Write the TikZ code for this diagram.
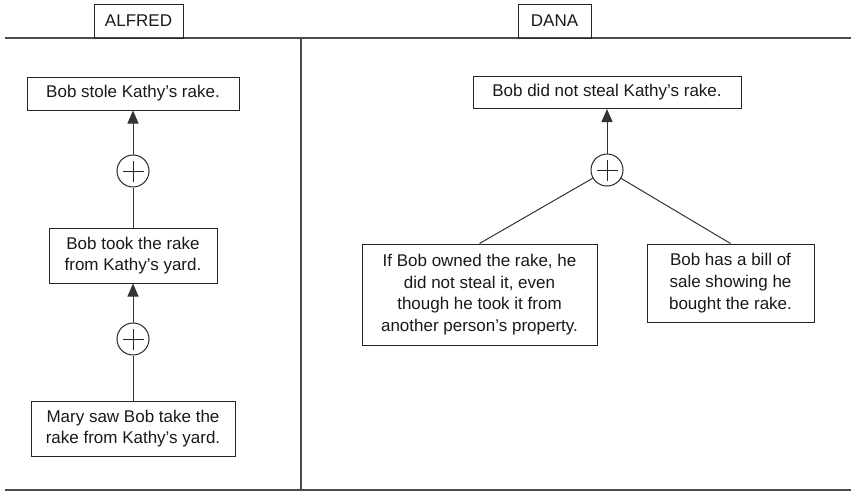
\documentclass[tikz,border=0pt]{standalone}
\usepackage{fontspec}
\setmainfont{Liberation Sans}
\usetikzlibrary{arrows.meta}
\begin{document}
\begin{tikzpicture}[x=1pt,y=-1pt,
  every node/.style={font=\fontsize{17}{21.7}\selectfont, text=black!90},
  claim/.style={draw=black!85, line width=1pt, align=center, inner sep=0pt},
  header/.style={draw=black!85, line width=1pt, inner sep=0pt},
  plusnode/.style={draw=black!85, line width=1pt, circle, minimum size=32pt, inner sep=0pt,
    path picture={\draw[line width=1pt] ([xshift=-10.5pt]path picture bounding box.center) -- ([xshift=10.5pt]path picture bounding box.center)
      ([yshift=-10.5pt]path picture bounding box.center) -- ([yshift=10.5pt]path picture bounding box.center);}},
  link/.style={draw=black!80, line width=1pt},
  support/.style={link, -{Triangle[length=13pt,width=11pt]}},
  rule/.style={draw=black!70, line width=1.5pt}
]
\useasboundingbox (0,0) rectangle (851,491);

% frame rules
\coordinate (tl) at (5,38);
\coordinate (tr) at (851,38);
\coordinate (bl) at (5,490);
\coordinate (br) at (851,490);
\coordinate (vt) at (301,38);
\coordinate (vb) at (301,490);
\draw[rule] (tl) -- (tr);
\draw[rule] (bl) -- (br);
\draw[rule, line width=1.2pt] (vt) -- (vb);

% column headers
\node[header, minimum width=89pt, minimum height=34pt] (alfred) at (138.5,21) {ALFRED};
\node[header, minimum width=73pt, minimum height=34pt] (dana) at (554.5,21) {DANA};

% Alfred's chain
\node[claim, minimum width=212pt, minimum height=33pt] (a1) at (133,93.5) {Bob stole Kathy’s rake.};
\node[plusnode] (ap1) at (133,171) {};
\node[claim, minimum width=168pt, minimum height=55pt] (a2) at (133,255.5) {Bob took the rake\\from Kathy’s yard.};
\node[plusnode] (ap2) at (133,339) {};
\node[claim, minimum width=204pt, minimum height=55pt] (a3) at (133,428.5) {Mary saw Bob take the\\rake from Kathy’s yard.};

\draw[support] (ap1) -- (a1);
\draw[link] (a2) -- (ap1);
\draw[support] (ap2) -- (a2);
\draw[link] (a3) -- (ap2);

% Dana's tree
\node[claim, minimum width=268pt, minimum height=32pt] (d1) at (607,92.5) {Bob did not steal Kathy’s rake.};
\node[plusnode] (dp) at (607,170) {};
\node[claim, minimum width=235pt, minimum height=101pt] (d2) at (479.5,294.5) {If Bob owned the rake, he\\did not steal it, even\\though he took it from\\another person’s property.};
\node[claim, minimum width=167pt, minimum height=78pt] (d3) at (730.5,283) {Bob has a bill of\\sale showing he\\bought the rake.};

\draw[support] (dp) -- (d1);
\draw[link] (d2.north) -- (dp);
\draw[link] (d3.north) -- (dp);
\end{tikzpicture}
\end{document}
